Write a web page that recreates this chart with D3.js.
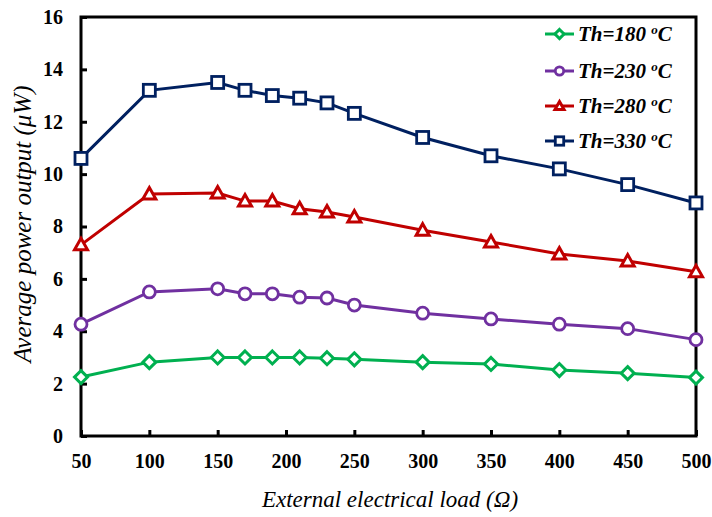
<!DOCTYPE html>
<html><head><meta charset="utf-8">
<script src="https://cdn.jsdelivr.net/npm/d3@7"></script>
<style>body{margin:0;background:#fff}svg{display:block}</style>
</head><body>
<svg id="c" width="712" height="517"></svg>
<script>
const loads = [50,100,150,170,190,210,230,250,300,350,400,450,500];
const th180 = [2.25,2.82,3.0,3.0,3.0,3.0,2.97,2.93,2.82,2.75,2.52,2.4,2.23];
const th230 = [4.27,5.5,5.62,5.43,5.43,5.3,5.27,5.0,4.69,4.47,4.27,4.1,3.68];
const th280 = [7.3,9.24,9.28,8.97,8.97,8.68,8.55,8.36,7.86,7.41,6.95,6.68,6.27];
const th330 = [10.6,13.2,13.5,13.2,13.0,12.9,12.72,12.32,11.4,10.7,10.2,9.6,8.9];
const seriesNames = ["Th=180 ","Th=230 ","Th=280 ","Th=330 "];
const colors = ["#00B050","#7030A0","#C00000","#002060"];
const symbols = ["diamond","circle","triangle","square"];
const xTicks = [50,100,150,200,250,300,350,400,450,500];
const yTicks = [0,2,4,6,8,10,12,14,16];
const series = [th180,th230,th280,th330];

const FONT = '"Liberation Serif"';
const svg = d3.select("#c");
const L=81, R=696, T=17, B=436;
const x = d3.scaleLinear().domain([50,500]).range([L,R]);
const y = d3.scaleLinear().domain([0,16]).range([B,T]);

svg.append("rect").attr("x",L).attr("y",T).attr("width",R-L).attr("height",B-T)
  .attr("fill","none").attr("stroke","#000").attr("stroke-width",3);

const xa = svg.append("g").attr("transform",`translate(0,${B})`)
  .call(d3.axisBottom(x).tickValues(xTicks).tickSizeInner(-6).tickSizeOuter(0).tickPadding(18));
const ya = svg.append("g").attr("transform",`translate(${L},0)`)
  .call(d3.axisLeft(y).tickValues(yTicks).tickSizeInner(-6).tickSizeOuter(0).tickPadding(18));
[xa,ya].forEach(a=>{
  a.select(".domain").remove();
  a.attr("font-family",null).attr("font-size",null);
  a.selectAll(".tick line").attr("stroke","#000").attr("stroke-width",3);
  a.selectAll(".tick text").style("font-family",FONT).style("font-weight","bold")
    .style("font-size","20px").attr("fill","#000");
});
xa.selectAll(".tick text").attr("dy","0.71em");

const line = d3.line().x((d,i)=>x(loads[i])).y(d=>y(d));
function sym(k,g,cx,cy,c,s){
  if(k==="diamond") g.append("path").attr("d",`M${cx},${cy-6.5*s}L${cx+6.5*s},${cy}L${cx},${cy+6.5*s}L${cx-6.5*s},${cy}Z`)
    .attr("fill","#fff").attr("stroke",c).attr("stroke-width",3);
  else if(k==="circle") g.append("circle").attr("cx",cx).attr("cy",cy).attr("r",6*s)
    .attr("fill","#fff").attr("stroke",c).attr("stroke-width",2.8);
  else if(k==="triangle") g.append("path").attr("d",`M${cx},${cy-6.5*s}L${cx+6.5*s},${cy+5*s}L${cx-6.5*s},${cy+5*s}Z`)
    .attr("fill","#fff").attr("stroke",c).attr("stroke-width",3);
  else g.append("rect").attr("x",cx-6*s).attr("y",cy-6*s).attr("width",12*s).attr("height",12*s)
    .attr("fill","#fff").attr("stroke",c).attr("stroke-width",2.8);
}
series.forEach((s,k)=>{
  const g = svg.append("g");
  g.append("path").datum(s).attr("d",line).attr("fill","none").attr("stroke",colors[k]).attr("stroke-width",3);
  s.forEach((v,i)=>sym(symbols[k],g,x(loads[i]),y(v),colors[k],1));
});

const ly=[34,71,106,141];
series.forEach((s,k)=>{
  const g=svg.append("g");
  g.append("line").attr("x1",545).attr("x2",574).attr("y1",ly[k]).attr("y2",ly[k]).attr("stroke",colors[k]).attr("stroke-width",3);
  sym(symbols[k],g,559.5,ly[k],colors[k],0.7);
  const t=g.append("text").attr("x",578).attr("y",ly[k]+7).style("font-family",FONT)
    .style("font-weight","bold").style("font-style","italic").style("font-size","21px").attr("fill","#000");
  t.append("tspan").text(seriesNames[k]);
  t.append("tspan").text("o").style("font-size","13px").attr("dy",-7);
  t.append("tspan").text("C").attr("dy",7);
});

svg.append("text").attr("x",390).attr("y",507).attr("text-anchor","middle").style("font-family",FONT)
  .style("font-style","italic").style("font-size","23px").attr("fill","#000")
  .text("External electrical load (Ω)");
svg.append("text").attr("transform","translate(31,224) rotate(-90)").attr("text-anchor","middle").style("font-family",FONT)
  .style("font-style","italic").style("font-size","25px").attr("fill","#000")
  .text("Average power output (μW)");
</script>
</body></html>
